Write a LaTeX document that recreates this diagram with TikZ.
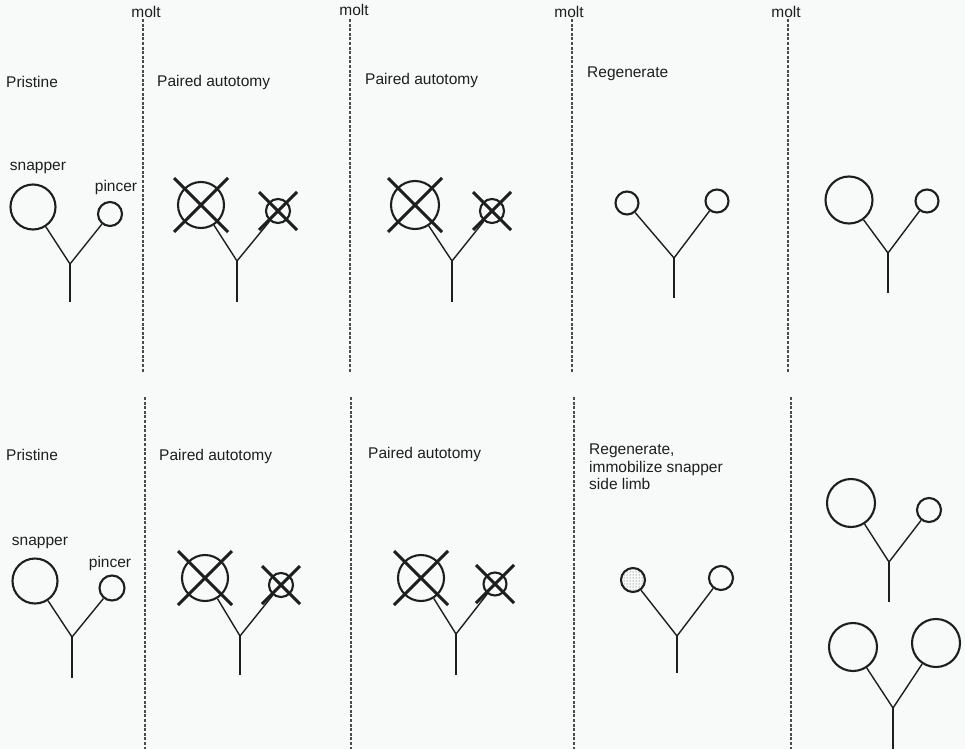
\documentclass[tikz,border=0pt]{standalone}
\usepackage{xcolor}
\usepackage{fontspec}
\setmainfont{Liberation Sans}
\usepackage{tikz}
\usetikzlibrary{patterns}
\definecolor{PaperWhite}{HTML}{F8FAFA}
\definecolor{InkBlack}{HTML}{1E1E1E}

\begin{document}
\begin{tikzpicture}[x=1pt,y=-1pt,
  every node/.style={font=\fontsize{15.5}{17.5}\selectfont, text=InkBlack},
  label/.style={anchor=west, inner sep=0pt},
  claw/.style={circle, draw=InkBlack, line width=2.1pt, inner sep=0pt, minimum size=#1},
  limb/.style={draw=InkBlack, line width=1.4pt},
  stem/.style={draw=InkBlack, line width=2.8pt},
  cut/.style={draw=InkBlack, line width=3pt},
  moltline/.style={draw=InkBlack!80, line width=1.1pt, dash pattern=on 3pt off 1.6pt}]
  \fill[PaperWhite] (0,0) rectangle (965,749);
  \useasboundingbox (0,0) rectangle (965,749);
  % molt lines
  \node (molt1) at (146,12) {molt};
  \node (molt2) at (354,10) {molt};
  \node (molt3) at (569,12) {molt};
  \node (molt4) at (786,12) {molt};
  \draw[moltline] (143,19) -- (143,372);
  \draw[moltline] (350,19) -- (350,372);
  \draw[moltline] (572,19) -- (572,372);
  \draw[moltline] (788,19) -- (788,372);
  \draw[moltline] (145,397) -- (145,749);
  \draw[moltline] (351,397) -- (351,749);
  \draw[moltline] (574,397) -- (574,749);
  \draw[moltline] (791,397) -- (791,749);
  % top row
  \node[label] (tA) at (6,82) {Pristine};
  \node[label] (tB) at (157,82) {Paired autotomy};
  \node[label] (tC) at (365,80) {Paired autotomy};
  \node[label] (tD) at (587,74) {Regenerate};
  \node (snapA) at (38,168) {snapper};
  \node (pincA) at (116,187) {pincer};
  \node[claw=45pt] (s1) at (33,207) {};
  \node[claw=24pt] (p1) at (110,214) {};
  \coordinate (j1) at (70,264); \coordinate (b1) at (70,302);
  \draw[limb] (j1) -- (s1); \draw[limb] (j1) -- (p1); \draw[stem] (j1) -- (b1);
  \node[claw=46pt] (s2) at (201,205) {};
  \node[claw=24pt] (p2) at (278,211) {};
  \coordinate (j2) at (237,261); \coordinate (b2) at (237,302);
  \draw[limb] (j2) -- (s2); \draw[limb] (j2) -- (p2); \draw[stem] (j2) -- (b2);
  \draw[cut] (s2) +(-27,-27) -- +(27,27); \draw[cut] (s2) +(27,-27) -- +(-27,27);
  \draw[cut] (p2) +(-19,-19) -- +(19,19); \draw[cut] (p2) +(19,-19) -- +(-19,19);
  \node[claw=48pt] (s3) at (415,205) {};
  \node[claw=24pt] (p3) at (492,211) {};
  \coordinate (j3) at (452,261); \coordinate (b3) at (452,302);
  \draw[limb] (j3) -- (s3); \draw[limb] (j3) -- (p3); \draw[stem] (j3) -- (b3);
  \draw[cut] (s3) +(-27,-27) -- +(27,27); \draw[cut] (s3) +(27,-27) -- +(-27,27);
  \draw[cut] (p3) +(-19,-19) -- +(19,19); \draw[cut] (p3) +(19,-19) -- +(-19,19);
  \node[claw=23pt] (s4) at (627,203) {};
  \node[claw=23pt] (p4) at (717,201) {};
  \coordinate (j4) at (674,258); \coordinate (b4) at (674,298);
  \draw[limb] (j4) -- (s4); \draw[limb] (j4) -- (p4); \draw[stem] (j4) -- (b4);
  \node[claw=47pt] (s5) at (849,200) {};
  \node[claw=23pt] (p5) at (927,201) {};
  \coordinate (j5) at (888,253); \coordinate (b5) at (888,293);
  \draw[limb] (j5) -- (s5); \draw[limb] (j5) -- (p5); \draw[stem] (j5) -- (b5);
  % bottom row
  \node[label] (uA) at (6,455) {Pristine};
  \node[label] (uB) at (159,456) {Paired autotomy};
  \node[label] (uC) at (368,454) {Paired autotomy};
  \node[label, anchor=north west, align=left] (uD) at (589,444) {Regenerate,\\immobilize snapper\\side limb};
  \node (snapB) at (40,543) {snapper};
  \node (pincB) at (110,563) {pincer};
  \node[claw=45pt] (s6) at (35,581) {};
  \node[claw=25pt] (p6) at (112,588) {};
  \coordinate (j6) at (72,637); \coordinate (b6) at (72,678);
  \draw[limb] (j6) -- (s6); \draw[limb] (j6) -- (p6); \draw[stem] (j6) -- (b6);
  \node[claw=46pt] (s7) at (205,578) {};
  \node[claw=24pt] (p7) at (281,585) {};
  \coordinate (j7) at (240,636); \coordinate (b7) at (240,675);
  \draw[limb] (j7) -- (s7); \draw[limb] (j7) -- (p7); \draw[stem] (j7) -- (b7);
  \draw[cut] (s7) +(-27,-27) -- +(27,27); \draw[cut] (s7) +(27,-27) -- +(-27,27);
  \draw[cut] (p7) +(-19,-19) -- +(19,19); \draw[cut] (p7) +(19,-19) -- +(-19,19);
  \node[claw=46pt] (s8) at (421,578) {};
  \node[claw=23pt] (p8) at (495,584) {};
  \coordinate (j8) at (456,634); \coordinate (b8) at (456,675);
  \draw[limb] (j8) -- (s8); \draw[limb] (j8) -- (p8); \draw[stem] (j8) -- (b8);
  \draw[cut] (s8) +(-27,-27) -- +(27,27); \draw[cut] (s8) +(27,-27) -- +(-27,27);
  \draw[cut] (p8) +(-19,-19) -- +(19,19); \draw[cut] (p8) +(19,-19) -- +(-19,19);
  \node[claw=24pt, fill=gray!55, pattern=dots, pattern color=InkBlack!80] (s9) at (633,580) {};
  \node[claw=24pt] (p9) at (721,578) {};
  \coordinate (j9) at (677,636); \coordinate (b9) at (677,673);
  \draw[limb] (j9) -- (s9); \draw[limb] (j9) -- (p9); \draw[stem] (j9) -- (b9);
  \node[claw=48pt] (s10) at (851,503) {};
  \node[claw=24pt] (p10) at (929,510) {};
  \coordinate (j10) at (889,562); \coordinate (b10) at (889,602);
  \draw[limb] (j10) -- (s10); \draw[limb] (j10) -- (p10); \draw[stem] (j10) -- (b10);
  \node[claw=48pt] (s11) at (853,647) {};
  \node[claw=48pt] (p11) at (936,643) {};
  \coordinate (j11) at (893,708); \coordinate (b11) at (893,749);
  \draw[limb] (j11) -- (s11); \draw[limb] (j11) -- (p11); \draw[stem] (j11) -- (b11);
\end{tikzpicture}
\end{document}
